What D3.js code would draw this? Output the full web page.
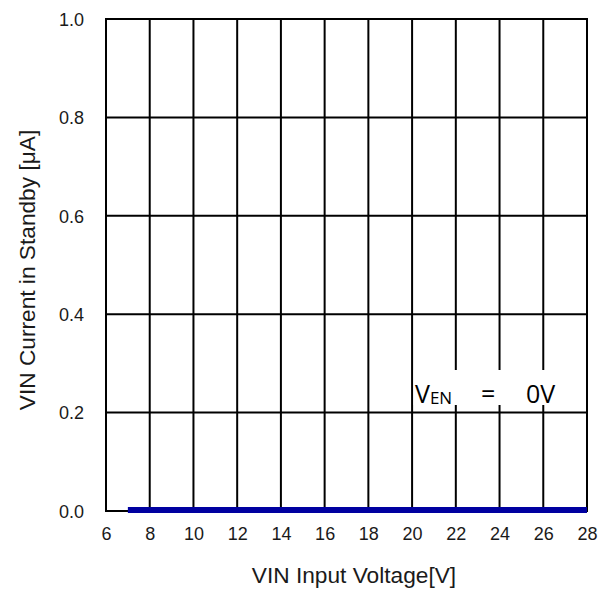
<!DOCTYPE html>
<html>
<head>
<meta charset="utf-8">
<script src="https://cdn.jsdelivr.net/npm/d3@7"></script>
<style>
  html, body { margin: 0; padding: 0; background: #fff; }
  svg { display: block; }
</style>
</head>
<body>
<svg id="chart" width="611" height="590"></svg>
<script>
// ---- data ----
const xTicks = [6, 8, 10, 12, 14, 16, 18, 20, 22, 24, 26, 28];
const yTicks = [0.0, 0.2, 0.4, 0.6, 0.8, 1.0];
const vinVoltage = [7, 8, 9, 10, 11, 12, 13, 14, 15, 16, 17, 18, 19, 20, 21, 22, 23, 24, 25, 26, 27, 28];
const standbyCurrent = [0, 0, 0, 0, 0, 0, 0, 0, 0, 0, 0, 0, 0, 0, 0, 0, 0, 0, 0, 0, 0, 0];
const xTitle = "VIN Input Voltage[V]";
const yTitle = "VIN Current in Standby [μA]";

// ---- layout ----
(function () {
const svg = d3.select("#chart");
const pL = 106, pR = 587, pT = 19, pB = 511;
const x = d3.scaleLinear().domain([6, 28]).range([pL, pR]);
const y = d3.scaleLinear().domain([0, 1]).range([pB, pT]);
const font = "'Liberation Sans', Arial, sans-serif";

// grid
const grid = svg.append("g");
grid.selectAll("line.v").data(xTicks).enter().append("line")
  .attr("class", "v")
  .attr("x1", d => x(d)).attr("x2", d => x(d))
  .attr("y1", pT).attr("y2", pB)
  .attr("stroke", "#000").attr("stroke-width", 2);
grid.selectAll("line.h").data(yTicks).enter().append("line")
  .attr("class", "h")
  .attr("y1", d => y(d)).attr("y2", d => y(d))
  .attr("x1", pL).attr("x2", pR)
  .attr("stroke", "#000").attr("stroke-width", 2);

// annotation background box (covers the grid)
svg.append("rect")
  .attr("x", x(20) + 1.5).attr("y", 370)
  .attr("width", x(28) - x(20) - 3).attr("height", 35)
  .attr("fill", "#fff");

// frame
svg.append("rect")
  .attr("x", pL).attr("y", pT)
  .attr("width", pR - pL).attr("height", pB - pT)
  .attr("fill", "none").attr("stroke", "#000").attr("stroke-width", 2);

// axes (labels only)
const xAxis = d3.axisBottom(x).tickValues(xTicks).tickSize(0).tickPadding(0)
  .tickFormat(d3.format("d"));
const gx = svg.append("g").attr("transform", `translate(0,${pB})`).call(xAxis);
gx.select(".domain").remove();
gx.selectAll("text")
  .attr("y", 29).attr("dy", 0)
  .style("font-family", font).style("font-size", "18px").attr("fill", "#1a1a1a");

const yAxis = d3.axisLeft(y).tickValues(yTicks).tickSize(0).tickPadding(0)
  .tickFormat(d3.format(".1f"));
const gy = svg.append("g").attr("transform", `translate(${pL},0)`).call(yAxis);
gy.select(".domain").remove();
gy.selectAll("text")
  .attr("x", -22).attr("dy", "0.35em")
  .style("font-family", font).style("font-size", "18px").attr("fill", "#1a1a1a");

// data line
const line = d3.line().x((d, i) => x(vinVoltage[i])).y(d => y(d));
svg.append("path")
  .datum(standbyCurrent)
  .attr("d", line)
  .attr("fill", "none")
  .attr("stroke", "#0000a0")
  .attr("stroke-width", 6)
  .attr("transform", "translate(0,-1)");

// annotation
const annFont = "'Open Sans', 'Noto Sans', sans-serif";
const ann = svg.append("text")
  .attr("x", 415).attr("y", 403)
  .style("font-family", annFont)
  .style("font-size", "25px").attr("fill", "#000");
ann.append("tspan").text("V");
ann.append("tspan").attr("dy", 1).style("font-size", "17px").text("EN");
svg.append("text").attr("x", 481).attr("y", 403)
  .style("font-family", annFont)
  .style("font-size", "25px").text("=");
svg.append("text").attr("x", 526).attr("y", 403)
  .style("font-family", annFont)
  .style("font-size", "25px").text("0V");

// axis titles
svg.append("text")
  .attr("x", 354).attr("y", 583)
  .attr("text-anchor", "middle")
  .style("font-family", font).style("font-size", "22.7px").attr("fill", "#1a1a1a")
  .text(xTitle);
svg.append("text")
  .attr("transform", `translate(35,270) rotate(-90)`)
  .attr("text-anchor", "middle")
  .style("font-family", font).style("font-size", "22.7px").attr("fill", "#1a1a1a")
  .text(yTitle);
})();
</script>
</body>
</html>
